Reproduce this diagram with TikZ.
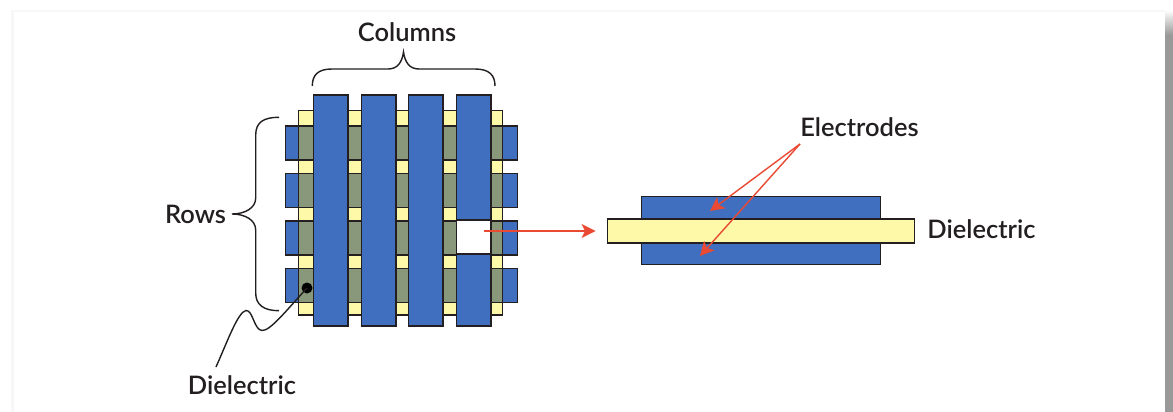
\documentclass[tikz,border=0pt]{standalone}
\usepackage{fontspec}
\setmainfont{Lato Semibold}
\usetikzlibrary{arrows.meta}
\definecolor{elecblue}{HTML}{416FBF}
\definecolor{dielyellow}{HTML}{FDF9A8}
\definecolor{overlapgreen}{HTML}{89987B}
\definecolor{arrowred}{HTML}{EA4A33}
\definecolor{inkblack}{HTML}{231F20}
\tikzset{
  bar/.style={draw=inkblack, line width=1pt},
  label/.style={font=\fontsize{14.5}{17}\selectfont, text=inkblack, inner sep=0pt},
  redarrow/.style={arrowred, line width=0.8pt, -{Stealth[length=8pt,width=8pt,inset=2pt]}},
  curlybrace/.style={inkblack, line width=0.8pt}
}
\begin{document}
\begin{tikzpicture}[x=0.02cm,y=-0.02cm]
  \useasboundingbox (0,0) rectangle (1173,412);
  % page edge
  \fill[black!3] (11,10) rectangle (1165,412);
  \fill[white] (14,12) rectangle (1165,412);
  \shade[top color=white, bottom color=black!40] (1165,10) rectangle (1173,35);
  \fill[black!40] (1165,35) rectangle (1173,412);

  % dielectric sheet
  \draw[bar, fill=dielyellow] (298.5,110.5) rectangle (502.5,315);
  % rows
  \foreach \y in {126,173.5,221,268.5} {
    \draw[bar, fill=elecblue] (285.5,\y) rectangle (517.5,\y+34);
    \draw[bar, fill=overlapgreen] (298.5,\y) rectangle (502.5,\y+34);
  }
  % columns
  \foreach \x in {313.5,361.5,408.5} {
    \draw[bar, fill=elecblue] (\x,95) rectangle (\x+34.5,326);
  }
  \draw[bar, fill=elecblue] (456.5,95) rectangle (491,220);
  \draw[bar, fill=white] (456.5,220) rectangle (491,254);
  \draw[bar, fill=elecblue] (456.5,254) rectangle (491,326);

  % cross section
  \draw[bar, fill=elecblue] (641.5,196.5) rectangle (880.5,264.5);
  \node[bar, fill=dielyellow, minimum width=307*0.02cm, minimum height=23.5*0.02cm, inner sep=0pt] (sheet) at (761,231) {};

  % labels
  \node[label] (columns) at (407,32) {Columns};
  \node[label] (rows) at (195.5,214) {Rows};
  \node[label] (dielbottom) at (242,385) {Dielectric};
  \node[label] (electrodes) at (859.5,127) {Electrodes};
  \node[label, right] (dielright) at (927,229) {Dielectric};

  % braces
  \draw[curlybrace] (312.3,86) .. controls (312.3,75) and (318,69) .. (332,69) -- (388,69)
    .. controls (397,69) and (402,63) .. (403.5,52)
    .. controls (405,63) and (410,69) .. (419,69) -- (475,69)
    .. controls (489,69) and (495,75) .. (495,86);
  \draw[curlybrace] (279,117.3) .. controls (264,117.3) and (255.7,122) .. (255.7,135) -- (255.7,198)
    .. controls (255.7,208) and (245,214) .. (232,214)
    .. controls (245,214) and (255.7,220) .. (255.7,230) -- (255.7,293)
    .. controls (255.7,305) and (264,310.7) .. (279,310.7);

  % leader
  \coordinate (dotpos) at (307,288);
  \coordinate (leaderend) at (216,367);
  \fill[black] (dotpos) circle (5.5);
  \draw[inkblack, line width=0.8pt] (dotpos) .. controls (285,312) and (270,331) .. (262,330.5)
    .. controls (254,330) and (253,310) .. (246,310.5)
    .. controls (238,312) and (228,340) .. (leaderend);

  % red arrows
  \coordinate (gap) at (484,231);
  \coordinate (fan) at (800,144);
  \coordinate (upper) at (710,211);
  \coordinate (lower) at (700,256);
  \draw[redarrow] (gap) -- ([xshift=-11*0.02cm]sheet.west);
  \draw[redarrow] (fan) -- (upper);
  \draw[redarrow] (fan) -- (lower);
\end{tikzpicture}
\end{document}
